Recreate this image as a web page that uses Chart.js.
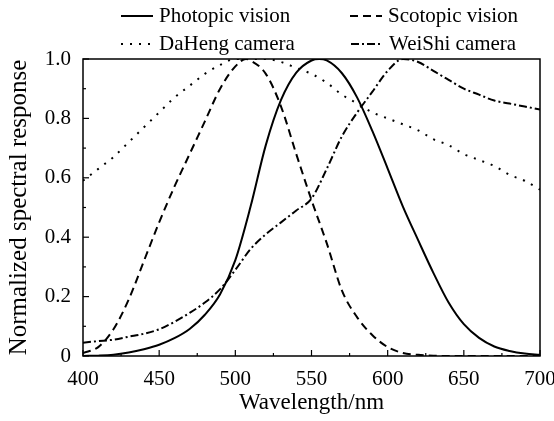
<!DOCTYPE html>
<html>
<head>
<meta charset="utf-8">
<script src="https://cdn.jsdelivr.net/npm/chart.js@4.4.1/dist/chart.umd.min.js"></script>
<style>
  html, body { margin: 0; padding: 0; background: #fff; }
  #wrap { width: 554px; height: 421px; position: relative; }
</style>
</head>
<body>
<div id="wrap"><canvas id="c" width="554" height="421"></canvas></div>
<script>
// ---- data ----
const photopicNm = [400,410,420,430,440,450,460,470,480,490,500,510,520,530,540,550,555,560,570,580,590,600,610,620,630,640,650,660,670,680,690,700];
const photopic = [0.0004,0.0012,0.004,0.0116,0.023,0.038,0.06,0.091,0.139,0.208,0.323,0.503,0.71,0.862,0.954,0.995,1.0,0.995,0.952,0.87,0.757,0.631,0.503,0.39,0.28,0.18,0.107,0.061,0.032,0.017,0.0082,0.0041];
const scotopicNm = [400,410,420,430,440,450,460,470,480,490,500,507,510,520,530,540,550,560,570,580,590,600,610,620,630,640,650,660,670,680,690,700];
const scotopic = [0.01,0.03,0.09,0.19,0.32,0.45,0.57,0.68,0.79,0.90,0.975,1.0,0.995,0.95,0.84,0.68,0.525,0.38,0.22,0.13,0.07,0.03,0.01,0.004,0.001,0,0,0,0,0,0,0];
const cameraNm = [400,410,420,430,440,450,460,470,480,490,500,510,520,530,540,550,560,570,580,590,600,610,620,630,640,650,660,670,680,690,700];
const daheng = [0.59,0.63,0.67,0.72,0.77,0.82,0.87,0.91,0.95,0.98,1.0,1.0,1.0,0.99,0.97,0.95,0.92,0.88,0.85,0.82,0.80,0.78,0.76,0.73,0.71,0.68,0.66,0.64,0.61,0.59,0.56];
const weishi = [0.045,0.05,0.055,0.065,0.075,0.09,0.115,0.145,0.18,0.225,0.29,0.36,0.41,0.45,0.49,0.53,0.63,0.74,0.82,0.89,0.96,1.0,0.99,0.96,0.93,0.90,0.88,0.86,0.85,0.84,0.83];
const seriesNames = ['Photopic vision','Scotopic vision','DaHeng camera','WeiShi camera'];
const xTicks = [400,450,500,550,600,650,700];
const yTicks = [0,0.2,0.4,0.6,0.8,1.0];

const FONT = "'Liberation Serif','Times New Roman',serif";
const pts = (nm, arr) => nm.map((w,i)=>({x:w,y:arr[i]}));

const styles = [
  {nm: photopicNm, data: photopic, dash: []},
  {nm: scotopicNm, data: scotopic, dash: [8,5]},
  {nm: cameraNm, data: daheng, dash: [2,7]},
  {nm: cameraNm, data: weishi, dash: [8,3,2,3]}
];

const datasets = styles.map((s,i)=>({
  label: seriesNames[i],
  data: pts(s.nm, s.data),
  borderColor: '#000',
  borderWidth: 2,
  borderDash: s.dash,
  pointRadius: 0,
  cubicInterpolationMode: 'monotone',
  fill: false
}));

const frame = {
  id: 'frame',
  afterDraw(chart) {
    const ctx = chart.ctx, a = chart.chartArea;
    const xs = chart.scales.x, ys = chart.scales.y;
    ctx.save();
    ctx.strokeStyle = '#000';
    ctx.lineWidth = 1.5;
    ctx.setLineDash([]);
    ctx.strokeRect(a.left, a.top, a.right - a.left, a.bottom - a.top);
    ctx.lineWidth = 1.2;
    for (let v = 400; v <= 700; v += 25) {
      const px = xs.getPixelForValue(v);
      const len = (v % 50 === 0) ? 6 : 3;
      ctx.beginPath(); ctx.moveTo(px, a.bottom); ctx.lineTo(px, a.bottom - len); ctx.stroke();
    }
    for (let k = 0; k <= 10; k++) {
      const v = k / 10;
      const py = ys.getPixelForValue(v);
      const len = (k % 2 === 0) ? 6 : 3;
      ctx.beginPath(); ctx.moveTo(a.left, py); ctx.lineTo(a.left + len, py); ctx.stroke();
    }
    const items = [
      {x: 121, y: 16, i: 0},
      {x: 350, y: 16, i: 1},
      {x: 121, y: 44, i: 2},
      {x: 351, y: 44, i: 3}
    ];
    ctx.font = '21px ' + FONT;
    ctx.fillStyle = '#000';
    ctx.textBaseline = 'middle';
    items.forEach(it => {
      const ds = chart.data.datasets[it.i];
      ctx.lineWidth = 2;
      ctx.setLineDash(ds.borderDash);
      ctx.beginPath(); ctx.moveTo(it.x, it.y); ctx.lineTo(it.x + 32, it.y); ctx.stroke();
      ctx.setLineDash([]);
      ctx.fillText(ds.label, it.x + 38, it.y);
    });
    ctx.restore();
  }
};

new Chart(document.getElementById('c'), {
  type: 'line',
  data: { datasets },
  options: {
    responsive: false,
    animation: false,
    layout: { padding: { top: 59, right: 14, left: 0, bottom: 0 } },
    plugins: { legend: { display: false }, tooltip: { enabled: false } },
    scales: {
      x: {
        type: 'linear', min: 400, max: 700,
        afterBuildTicks: s => { s.ticks = xTicks.map(v => ({value: v})); },
        afterFit: s => { s.height = 421 - 356; s.paddingRight = 0; s.paddingLeft = 0; },
        grid: { display: false, drawTicks: false },
        border: { display: false },
        ticks: { color: '#000', font: { family: FONT, size: 21 }, padding: 11, maxRotation: 0 },
        title: { display: true, text: 'Wavelength/nm', color: '#000', font: { family: FONT, size: 23 }, padding: { top: 3 } }
      },
      y: {
        type: 'linear', min: 0, max: 1,
        afterBuildTicks: s => { s.ticks = yTicks.map(v => ({value: v})); },
        afterFit: s => { s.width = 83; s.paddingTop = 0; s.paddingBottom = 0; },
        grid: { display: false, drawTicks: false },
        border: { display: false },
        ticks: { color: '#000', font: { family: FONT, size: 21 }, padding: 12,
          callback: v => v === 0 ? '0' : v.toFixed(1) },
        title: { display: true, text: 'Normalized spectral response', color: '#000', font: { family: FONT, size: 25 }, padding: { bottom: 0 } }
      }
    }
  },
  plugins: [frame]
});
</script>
</body>
</html>
